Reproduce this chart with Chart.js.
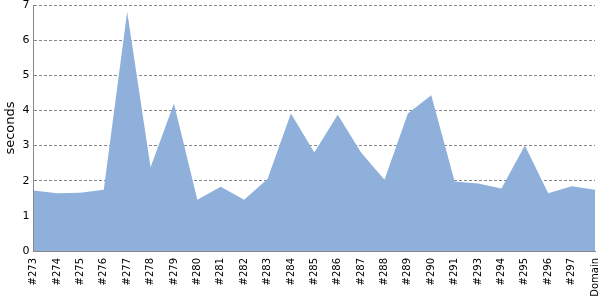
<!DOCTYPE html>
<html>
<head>
<meta charset="utf-8">
<script src="https://cdn.jsdelivr.net/npm/chart.js@4"></script>
<style>
  html, body { margin: 0; padding: 0; background: #fff; }
  #wrap { width: 600px; height: 300px; }
</style>
</head>
<body>
<div id="wrap"><canvas id="timesChart"></canvas></div>
<script>
// build labels and measured times (seconds)
const builds = ['#273', '#274', '#275', '#276', '#277', '#278', '#279', '#280', '#281', '#282',
    '#283', '#284', '#285', '#286', '#287', '#288', '#289', '#290', '#291', '#293',
    '#294', '#295', '#296', '#297', 'Domain'];
const seconds = [1.72, 1.64, 1.66, 1.74, 6.81, 2.38, 4.2, 1.46, 1.83, 1.46,
    2.05, 3.91, 2.8, 3.88, 2.8, 2.03, 3.91, 4.43, 1.98, 1.92,
    1.78, 3.0, 1.64, 1.84, 1.74];
const yTicks = [0, 1, 2, 3, 4, 5, 6, 7];

Chart.defaults.font.family = 'DejaVu Sans';
Chart.defaults.font.size = 11;
Chart.defaults.color = '#000';

const ctx = document.getElementById('timesChart').getContext('2d');
new Chart(ctx, {
    type: 'line',
    data: {
        labels: builds,
        datasets: [{
            data: seconds,
            fill: 'origin',
            backgroundColor: 'rgb(142, 176, 219)',
            borderColor: 'rgb(142, 176, 219)',
            borderWidth: 0,
            pointRadius: 0,
            tension: 0
        }]
    },
    options: {
        responsive: true,
        maintainAspectRatio: false,
        animation: false,
        layout: { padding: { top: 0, right: 0, left: 3, bottom: 0 } },
        plugins: { legend: { display: false }, tooltip: { enabled: false } },
        scales: {
            x: {
                offset: false,
                // only the first grid line, used as the solid y axis line
                grid: {
                    drawTicks: false,
                    color: c => c.index === 0 ? '#888' : 'rgba(0,0,0,0)'
                },
                border: { display: true, color: '#888' },
                ticks: { autoSkip: false, minRotation: 90, maxRotation: 90, padding: 7, font: { size: 10 } },
                afterFit: scale => {
                    scale.paddingRight = 5;
                    scale.height = 49;
                }
            },
            y: {
                min: yTicks[0],
                max: yTicks[yTicks.length - 1],
                afterBuildTicks: axis => { axis.ticks = yTicks.map(v => ({ value: v })); },
                grid: { color: '#888', drawTicks: false },
                border: { display: false, dash: [3, 2] },
                ticks: { padding: 4 },
                title: { display: true, text: 'seconds', font: { size: 13 }, padding: 0 },
                afterFit: scale => {
                    scale.paddingTop = 5;
                }
            }
        }
    }
});
</script>
</body>
</html>
